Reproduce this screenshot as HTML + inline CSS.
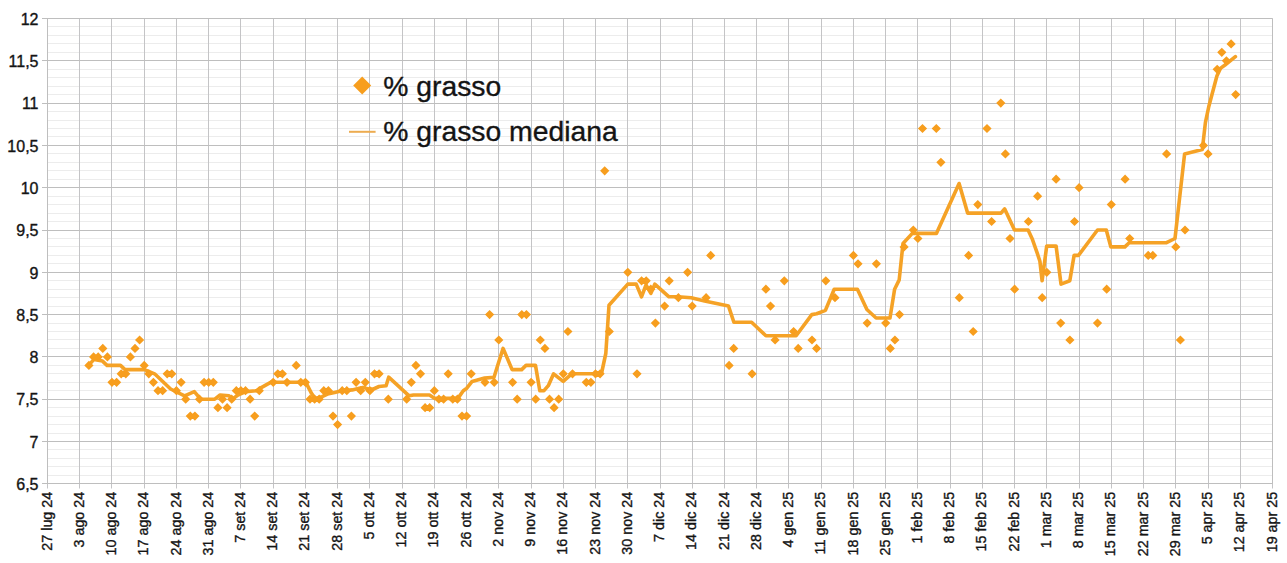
<!DOCTYPE html>
<html><head><meta charset="utf-8"><style>
html,body{margin:0;padding:0;background:#fff;}
body{width:1287px;height:563px;position:relative;overflow:hidden;font-family:"Liberation Sans",sans-serif;}
svg text{font-family:"Liberation Sans",sans-serif;fill:#141414;stroke:#141414;stroke-width:0.35px;}
</style></head><body>
<svg width="1287" height="563" viewBox="0 0 1287 563" style="position:absolute;left:0;top:0">
<path d="M47.5 475.50H1272.5M47.5 466.50H1272.5M47.5 458.50H1272.5M47.5 449.50H1272.5M47.5 433.50H1272.5M47.5 424.50H1272.5M47.5 416.50H1272.5M47.5 407.50H1272.5M47.5 390.50H1272.5M47.5 382.50H1272.5M47.5 373.50H1272.5M47.5 365.50H1272.5M47.5 348.50H1272.5M47.5 339.50H1272.5M47.5 331.50H1272.5M47.5 323.50H1272.5M47.5 306.50H1272.5M47.5 297.50H1272.5M47.5 289.50H1272.5M47.5 280.50H1272.5M47.5 263.50H1272.5M47.5 255.50H1272.5M47.5 246.50H1272.5M47.5 238.50H1272.5M47.5 221.50H1272.5M47.5 213.50H1272.5M47.5 204.50H1272.5M47.5 196.50H1272.5M47.5 179.50H1272.5M47.5 170.50H1272.5M47.5 162.50H1272.5M47.5 153.50H1272.5M47.5 136.50H1272.5M47.5 128.50H1272.5M47.5 120.50H1272.5M47.5 111.50H1272.5M47.5 94.50H1272.5M47.5 86.50H1272.5M47.5 77.50H1272.5M47.5 69.50H1272.5M47.5 52.50H1272.5M47.5 43.50H1272.5M47.5 35.50H1272.5M47.5 26.50H1272.5" stroke="#ECECEC" stroke-width="1" fill="none"/>
<path d="M47.50 18.5V488.5M79.50 18.5V488.5M111.50 18.5V488.5M144.50 18.5V488.5M176.50 18.5V488.5M208.50 18.5V488.5M240.50 18.5V488.5M273.50 18.5V488.5M305.50 18.5V488.5M337.50 18.5V488.5M369.50 18.5V488.5M402.50 18.5V488.5M434.50 18.5V488.5M466.50 18.5V488.5M498.50 18.5V488.5M531.50 18.5V488.5M563.50 18.5V488.5M595.50 18.5V488.5M627.50 18.5V488.5M660.50 18.5V488.5M692.50 18.5V488.5M724.50 18.5V488.5M756.50 18.5V488.5M788.50 18.5V488.5M821.50 18.5V488.5M853.50 18.5V488.5M885.50 18.5V488.5M917.50 18.5V488.5M950.50 18.5V488.5M982.50 18.5V488.5M1014.50 18.5V488.5M1046.50 18.5V488.5M1079.50 18.5V488.5M1111.50 18.5V488.5M1143.50 18.5V488.5M1175.50 18.5V488.5M1208.50 18.5V488.5M1240.50 18.5V488.5M1272.50 18.5V488.5" stroke="#C4C4C6" stroke-width="1" fill="none"/>
<path d="M42.0 483.50H1272.5M42.0 441.50H1272.5M42.0 399.50H1272.5M42.0 356.50H1272.5M42.0 314.50H1272.5M42.0 272.50H1272.5M42.0 230.50H1272.5M42.0 187.50H1272.5M42.0 145.50H1272.5M42.0 103.50H1272.5M42.0 60.50H1272.5M42.0 18.50H1272.5" stroke="#BEBEBE" stroke-width="1" fill="none"/>
<path d="M47.5 18.5V483.5M1272.5 18.5V483.5" stroke="#BEBEBE" stroke-width="1" fill="none"/>
<text x="38.5" y="490.00" text-anchor="end" font-size="16">6,5</text>
<text x="38.5" y="447.70" text-anchor="end" font-size="16">7</text>
<text x="38.5" y="405.40" text-anchor="end" font-size="16">7,5</text>
<text x="38.5" y="363.10" text-anchor="end" font-size="16">8</text>
<text x="38.5" y="320.80" text-anchor="end" font-size="16">8,5</text>
<text x="38.5" y="278.50" text-anchor="end" font-size="16">9</text>
<text x="38.5" y="236.20" text-anchor="end" font-size="16">9,5</text>
<text x="38.5" y="193.90" text-anchor="end" font-size="16">10</text>
<text x="38.5" y="151.60" text-anchor="end" font-size="16">10,5</text>
<text x="38.5" y="109.30" text-anchor="end" font-size="16">11</text>
<text x="38.5" y="67.00" text-anchor="end" font-size="16">11,5</text>
<text x="38.5" y="24.70" text-anchor="end" font-size="16">12</text>
<text transform="translate(51.60 491.7) rotate(-90)" text-anchor="end" font-size="14.35">27 lug 24</text>
<text transform="translate(83.84 491.7) rotate(-90)" text-anchor="end" font-size="14.35">3 ago 24</text>
<text transform="translate(116.07 491.7) rotate(-90)" text-anchor="end" font-size="14.35">10 ago 24</text>
<text transform="translate(148.31 491.7) rotate(-90)" text-anchor="end" font-size="14.35">17 ago 24</text>
<text transform="translate(180.55 491.7) rotate(-90)" text-anchor="end" font-size="14.35">24 ago 24</text>
<text transform="translate(212.78 491.7) rotate(-90)" text-anchor="end" font-size="14.35">31 ago 24</text>
<text transform="translate(245.02 491.7) rotate(-90)" text-anchor="end" font-size="14.35">7 set 24</text>
<text transform="translate(277.26 491.7) rotate(-90)" text-anchor="end" font-size="14.35">14 set 24</text>
<text transform="translate(309.49 491.7) rotate(-90)" text-anchor="end" font-size="14.35">21 set 24</text>
<text transform="translate(341.73 491.7) rotate(-90)" text-anchor="end" font-size="14.35">28 set 24</text>
<text transform="translate(373.97 491.7) rotate(-90)" text-anchor="end" font-size="14.35">5 ott 24</text>
<text transform="translate(406.21 491.7) rotate(-90)" text-anchor="end" font-size="14.35">12 ott 24</text>
<text transform="translate(438.44 491.7) rotate(-90)" text-anchor="end" font-size="14.35">19 ott 24</text>
<text transform="translate(470.68 491.7) rotate(-90)" text-anchor="end" font-size="14.35">26 ott 24</text>
<text transform="translate(502.92 491.7) rotate(-90)" text-anchor="end" font-size="14.35">2 nov 24</text>
<text transform="translate(535.15 491.7) rotate(-90)" text-anchor="end" font-size="14.35">9 nov 24</text>
<text transform="translate(567.39 491.7) rotate(-90)" text-anchor="end" font-size="14.35">16 nov 24</text>
<text transform="translate(599.63 491.7) rotate(-90)" text-anchor="end" font-size="14.35">23 nov 24</text>
<text transform="translate(631.86 491.7) rotate(-90)" text-anchor="end" font-size="14.35">30 nov 24</text>
<text transform="translate(664.10 491.7) rotate(-90)" text-anchor="end" font-size="14.35">7 dic 24</text>
<text transform="translate(696.34 491.7) rotate(-90)" text-anchor="end" font-size="14.35">14 dic 24</text>
<text transform="translate(728.57 491.7) rotate(-90)" text-anchor="end" font-size="14.35">21 dic 24</text>
<text transform="translate(760.81 491.7) rotate(-90)" text-anchor="end" font-size="14.35">28 dic 24</text>
<text transform="translate(793.05 491.7) rotate(-90)" text-anchor="end" font-size="14.35">4 gen 25</text>
<text transform="translate(825.28 491.7) rotate(-90)" text-anchor="end" font-size="14.35">11 gen 25</text>
<text transform="translate(857.52 491.7) rotate(-90)" text-anchor="end" font-size="14.35">18 gen 25</text>
<text transform="translate(889.76 491.7) rotate(-90)" text-anchor="end" font-size="14.35">25 gen 25</text>
<text transform="translate(921.99 491.7) rotate(-90)" text-anchor="end" font-size="14.35">1 feb 25</text>
<text transform="translate(954.23 491.7) rotate(-90)" text-anchor="end" font-size="14.35">8 feb 25</text>
<text transform="translate(986.47 491.7) rotate(-90)" text-anchor="end" font-size="14.35">15 feb 25</text>
<text transform="translate(1018.71 491.7) rotate(-90)" text-anchor="end" font-size="14.35">22 feb 25</text>
<text transform="translate(1050.94 491.7) rotate(-90)" text-anchor="end" font-size="14.35">1 mar 25</text>
<text transform="translate(1083.18 491.7) rotate(-90)" text-anchor="end" font-size="14.35">8 mar 25</text>
<text transform="translate(1115.42 491.7) rotate(-90)" text-anchor="end" font-size="14.35">15 mar 25</text>
<text transform="translate(1147.65 491.7) rotate(-90)" text-anchor="end" font-size="14.35">22 mar 25</text>
<text transform="translate(1179.89 491.7) rotate(-90)" text-anchor="end" font-size="14.35">29 mar 25</text>
<text transform="translate(1212.13 491.7) rotate(-90)" text-anchor="end" font-size="14.35">5 apr 25</text>
<text transform="translate(1244.36 491.7) rotate(-90)" text-anchor="end" font-size="14.35">12 apr 25</text>
<text transform="translate(1276.60 491.7) rotate(-90)" text-anchor="end" font-size="14.35">19 apr 25</text>
<polyline points="88.5,365.4 94.0,359.4 102.5,361.1 107.0,365.4 120.5,365.4 125.0,369.6 144.5,369.6 154.6,373.8 170.6,389.0 184.6,395.8 194.3,391.6 200.6,399.2 214.8,399.2 220.1,395.0 229.0,395.8 232.5,399.2 237.9,395.0 245.8,391.6 256.4,390.7 261.7,387.4 272.4,381.4 276.0,382.3 299.0,382.3 305.3,381.4 311.5,393.3 315.0,398.4 322.1,396.7 327.5,394.1 334.6,392.4 341.7,390.7 352.3,389.9 359.4,388.2 363.0,387.4 368.3,389.0 373.6,389.0 379.0,386.5 386.1,385.7 388.7,377.2 409.1,395.8 413.5,395.0 429.5,395.0 434.8,398.4 457.9,398.4 463.3,390.7 466.8,388.2 472.1,381.4 484.6,378.1 494.0,377.2 498.2,363.7 503.1,348.4 512.1,369.6 521.7,369.6 526.0,365.4 535.5,365.4 539.8,390.7 544.0,390.7 548.3,385.7 553.6,373.8 559.0,378.1 563.2,381.4 571.7,373.8 596.2,373.8 601.6,373.0 605.8,353.5 609.0,305.3 627.8,284.1 636.2,284.1 641.5,296.8 646.0,285.0 650.9,293.4 654.8,284.1 669.0,296.8 677.9,296.8 691.2,297.7 704.6,301.1 728.5,306.1 733.9,322.2 751.6,322.2 765.9,335.8 796.1,335.8 811.8,314.6 816.6,313.8 825.4,310.4 834.2,289.2 857.4,289.2 866.9,309.5 876.1,318.0 890.0,318.0 894.6,289.2 899.2,279.9 903.0,243.5 912.3,233.4 916.7,233.4 936.4,233.4 959.1,183.5 967.6,213.1 1001.0,213.1 1004.6,208.8 1014.5,230.0 1028.1,230.0 1032.4,239.3 1037.4,253.7 1039.9,261.3 1042.1,280.8 1046.7,246.1 1056.1,246.1 1061.0,284.1 1069.8,280.8 1074.1,255.4 1078.5,255.4 1097.5,230.0 1106.3,230.0 1110.8,246.9 1124.9,246.9 1129.2,242.7 1166.5,242.7 1175.0,238.5 1184.6,153.9 1202.3,149.6 1205.4,122.6 1208.8,106.5 1216.9,76.0 1220.4,68.4 1225.0,65.0 1235.4,56.6" fill="none" stroke="#F5A226" stroke-width="3.6" stroke-linejoin="round" stroke-linecap="round"/>
<path d="M88.9 360.8l4.6 4.6l-4.6 4.6l-4.6 -4.6zM93.6 352.3l4.6 4.6l-4.6 4.6l-4.6 -4.6zM98.2 352.3l4.6 4.6l-4.6 4.6l-4.6 -4.6zM102.8 343.8l4.6 4.6l-4.6 4.6l-4.6 -4.6zM107.4 352.3l4.6 4.6l-4.6 4.6l-4.6 -4.6zM112.0 377.7l4.6 4.6l-4.6 4.6l-4.6 -4.6zM116.6 377.7l4.6 4.6l-4.6 4.6l-4.6 -4.6zM121.2 369.2l4.6 4.6l-4.6 4.6l-4.6 -4.6zM125.8 369.2l4.6 4.6l-4.6 4.6l-4.6 -4.6zM130.4 352.3l4.6 4.6l-4.6 4.6l-4.6 -4.6zM135.0 343.8l4.6 4.6l-4.6 4.6l-4.6 -4.6zM139.6 335.4l4.6 4.6l-4.6 4.6l-4.6 -4.6zM144.2 360.8l4.6 4.6l-4.6 4.6l-4.6 -4.6zM148.8 369.2l4.6 4.6l-4.6 4.6l-4.6 -4.6zM153.4 377.7l4.6 4.6l-4.6 4.6l-4.6 -4.6zM158.0 386.1l4.6 4.6l-4.6 4.6l-4.6 -4.6zM162.6 386.1l4.6 4.6l-4.6 4.6l-4.6 -4.6zM167.2 369.2l4.6 4.6l-4.6 4.6l-4.6 -4.6zM171.8 369.2l4.6 4.6l-4.6 4.6l-4.6 -4.6zM176.4 386.1l4.6 4.6l-4.6 4.6l-4.6 -4.6zM181.1 377.7l4.6 4.6l-4.6 4.6l-4.6 -4.6zM185.7 394.6l4.6 4.6l-4.6 4.6l-4.6 -4.6zM190.3 411.5l4.6 4.6l-4.6 4.6l-4.6 -4.6zM194.9 411.5l4.6 4.6l-4.6 4.6l-4.6 -4.6zM199.5 394.6l4.6 4.6l-4.6 4.6l-4.6 -4.6zM204.1 377.7l4.6 4.6l-4.6 4.6l-4.6 -4.6zM208.7 377.7l4.6 4.6l-4.6 4.6l-4.6 -4.6zM213.3 377.7l4.6 4.6l-4.6 4.6l-4.6 -4.6zM217.9 403.1l4.6 4.6l-4.6 4.6l-4.6 -4.6zM222.5 394.6l4.6 4.6l-4.6 4.6l-4.6 -4.6zM227.1 403.1l4.6 4.6l-4.6 4.6l-4.6 -4.6zM231.7 394.6l4.6 4.6l-4.6 4.6l-4.6 -4.6zM236.3 386.1l4.6 4.6l-4.6 4.6l-4.6 -4.6zM240.9 386.1l4.6 4.6l-4.6 4.6l-4.6 -4.6zM245.5 386.1l4.6 4.6l-4.6 4.6l-4.6 -4.6zM250.1 394.6l4.6 4.6l-4.6 4.6l-4.6 -4.6zM254.7 411.5l4.6 4.6l-4.6 4.6l-4.6 -4.6zM259.3 386.1l4.6 4.6l-4.6 4.6l-4.6 -4.6zM273.2 377.7l4.6 4.6l-4.6 4.6l-4.6 -4.6zM277.8 369.2l4.6 4.6l-4.6 4.6l-4.6 -4.6zM282.4 369.2l4.6 4.6l-4.6 4.6l-4.6 -4.6zM287.0 377.7l4.6 4.6l-4.6 4.6l-4.6 -4.6zM296.2 360.8l4.6 4.6l-4.6 4.6l-4.6 -4.6zM300.8 377.7l4.6 4.6l-4.6 4.6l-4.6 -4.6zM305.4 377.7l4.6 4.6l-4.6 4.6l-4.6 -4.6zM310.0 394.6l4.6 4.6l-4.6 4.6l-4.6 -4.6zM314.6 394.6l4.6 4.6l-4.6 4.6l-4.6 -4.6zM319.2 394.6l4.6 4.6l-4.6 4.6l-4.6 -4.6zM323.8 386.1l4.6 4.6l-4.6 4.6l-4.6 -4.6zM328.4 386.1l4.6 4.6l-4.6 4.6l-4.6 -4.6zM333.0 411.5l4.6 4.6l-4.6 4.6l-4.6 -4.6zM337.6 420.0l4.6 4.6l-4.6 4.6l-4.6 -4.6zM342.2 386.1l4.6 4.6l-4.6 4.6l-4.6 -4.6zM346.8 386.1l4.6 4.6l-4.6 4.6l-4.6 -4.6zM351.4 411.5l4.6 4.6l-4.6 4.6l-4.6 -4.6zM356.1 377.7l4.6 4.6l-4.6 4.6l-4.6 -4.6zM360.7 386.1l4.6 4.6l-4.6 4.6l-4.6 -4.6zM365.3 377.7l4.6 4.6l-4.6 4.6l-4.6 -4.6zM369.9 386.1l4.6 4.6l-4.6 4.6l-4.6 -4.6zM374.5 369.2l4.6 4.6l-4.6 4.6l-4.6 -4.6zM379.1 369.2l4.6 4.6l-4.6 4.6l-4.6 -4.6zM388.3 394.6l4.6 4.6l-4.6 4.6l-4.6 -4.6zM406.7 394.6l4.6 4.6l-4.6 4.6l-4.6 -4.6zM411.3 377.7l4.6 4.6l-4.6 4.6l-4.6 -4.6zM415.9 360.8l4.6 4.6l-4.6 4.6l-4.6 -4.6zM420.5 369.2l4.6 4.6l-4.6 4.6l-4.6 -4.6zM425.1 403.1l4.6 4.6l-4.6 4.6l-4.6 -4.6zM429.7 403.1l4.6 4.6l-4.6 4.6l-4.6 -4.6zM434.3 386.1l4.6 4.6l-4.6 4.6l-4.6 -4.6zM438.9 394.6l4.6 4.6l-4.6 4.6l-4.6 -4.6zM443.6 394.6l4.6 4.6l-4.6 4.6l-4.6 -4.6zM448.2 369.2l4.6 4.6l-4.6 4.6l-4.6 -4.6zM452.8 394.6l4.6 4.6l-4.6 4.6l-4.6 -4.6zM457.4 394.6l4.6 4.6l-4.6 4.6l-4.6 -4.6zM462.0 411.5l4.6 4.6l-4.6 4.6l-4.6 -4.6zM466.6 411.5l4.6 4.6l-4.6 4.6l-4.6 -4.6zM471.2 369.2l4.6 4.6l-4.6 4.6l-4.6 -4.6zM485.0 377.7l4.6 4.6l-4.6 4.6l-4.6 -4.6zM489.6 310.0l4.6 4.6l-4.6 4.6l-4.6 -4.6zM494.2 377.7l4.6 4.6l-4.6 4.6l-4.6 -4.6zM498.8 335.4l4.6 4.6l-4.6 4.6l-4.6 -4.6zM512.6 377.7l4.6 4.6l-4.6 4.6l-4.6 -4.6zM517.2 394.6l4.6 4.6l-4.6 4.6l-4.6 -4.6zM521.8 310.0l4.6 4.6l-4.6 4.6l-4.6 -4.6zM526.4 310.0l4.6 4.6l-4.6 4.6l-4.6 -4.6zM531.1 377.7l4.6 4.6l-4.6 4.6l-4.6 -4.6zM535.7 394.6l4.6 4.6l-4.6 4.6l-4.6 -4.6zM540.3 335.4l4.6 4.6l-4.6 4.6l-4.6 -4.6zM544.9 343.8l4.6 4.6l-4.6 4.6l-4.6 -4.6zM549.5 394.6l4.6 4.6l-4.6 4.6l-4.6 -4.6zM554.1 403.1l4.6 4.6l-4.6 4.6l-4.6 -4.6zM558.7 394.6l4.6 4.6l-4.6 4.6l-4.6 -4.6zM563.3 369.2l4.6 4.6l-4.6 4.6l-4.6 -4.6zM567.9 326.9l4.6 4.6l-4.6 4.6l-4.6 -4.6zM572.5 369.2l4.6 4.6l-4.6 4.6l-4.6 -4.6zM586.3 377.7l4.6 4.6l-4.6 4.6l-4.6 -4.6zM590.9 377.7l4.6 4.6l-4.6 4.6l-4.6 -4.6zM595.5 369.2l4.6 4.6l-4.6 4.6l-4.6 -4.6zM600.1 369.2l4.6 4.6l-4.6 4.6l-4.6 -4.6zM604.7 166.2l4.6 4.6l-4.6 4.6l-4.6 -4.6zM609.3 326.9l4.6 4.6l-4.6 4.6l-4.6 -4.6zM627.8 267.7l4.6 4.6l-4.6 4.6l-4.6 -4.6zM637.0 369.2l4.6 4.6l-4.6 4.6l-4.6 -4.6zM641.6 276.2l4.6 4.6l-4.6 4.6l-4.6 -4.6zM646.2 276.2l4.6 4.6l-4.6 4.6l-4.6 -4.6zM650.8 284.6l4.6 4.6l-4.6 4.6l-4.6 -4.6zM655.4 318.5l4.6 4.6l-4.6 4.6l-4.6 -4.6zM664.6 301.5l4.6 4.6l-4.6 4.6l-4.6 -4.6zM669.2 276.2l4.6 4.6l-4.6 4.6l-4.6 -4.6zM678.4 293.1l4.6 4.6l-4.6 4.6l-4.6 -4.6zM687.6 267.7l4.6 4.6l-4.6 4.6l-4.6 -4.6zM692.2 301.5l4.6 4.6l-4.6 4.6l-4.6 -4.6zM706.1 293.1l4.6 4.6l-4.6 4.6l-4.6 -4.6zM710.7 250.8l4.6 4.6l-4.6 4.6l-4.6 -4.6zM729.1 360.8l4.6 4.6l-4.6 4.6l-4.6 -4.6zM733.7 343.8l4.6 4.6l-4.6 4.6l-4.6 -4.6zM752.1 369.2l4.6 4.6l-4.6 4.6l-4.6 -4.6zM765.9 284.6l4.6 4.6l-4.6 4.6l-4.6 -4.6zM770.5 301.5l4.6 4.6l-4.6 4.6l-4.6 -4.6zM775.1 335.4l4.6 4.6l-4.6 4.6l-4.6 -4.6zM784.3 276.2l4.6 4.6l-4.6 4.6l-4.6 -4.6zM793.6 326.9l4.6 4.6l-4.6 4.6l-4.6 -4.6zM798.2 343.8l4.6 4.6l-4.6 4.6l-4.6 -4.6zM812.0 335.4l4.6 4.6l-4.6 4.6l-4.6 -4.6zM816.6 343.8l4.6 4.6l-4.6 4.6l-4.6 -4.6zM825.8 276.2l4.6 4.6l-4.6 4.6l-4.6 -4.6zM835.0 293.1l4.6 4.6l-4.6 4.6l-4.6 -4.6zM853.4 250.8l4.6 4.6l-4.6 4.6l-4.6 -4.6zM858.0 259.2l4.6 4.6l-4.6 4.6l-4.6 -4.6zM867.2 318.5l4.6 4.6l-4.6 4.6l-4.6 -4.6zM876.4 259.2l4.6 4.6l-4.6 4.6l-4.6 -4.6zM885.7 318.5l4.6 4.6l-4.6 4.6l-4.6 -4.6zM890.3 343.8l4.6 4.6l-4.6 4.6l-4.6 -4.6zM894.9 335.4l4.6 4.6l-4.6 4.6l-4.6 -4.6zM899.5 310.0l4.6 4.6l-4.6 4.6l-4.6 -4.6zM904.1 242.3l4.6 4.6l-4.6 4.6l-4.6 -4.6zM913.3 225.4l4.6 4.6l-4.6 4.6l-4.6 -4.6zM917.9 233.9l4.6 4.6l-4.6 4.6l-4.6 -4.6zM922.5 123.9l4.6 4.6l-4.6 4.6l-4.6 -4.6zM936.3 123.9l4.6 4.6l-4.6 4.6l-4.6 -4.6zM940.9 157.7l4.6 4.6l-4.6 4.6l-4.6 -4.6zM959.3 293.1l4.6 4.6l-4.6 4.6l-4.6 -4.6zM968.6 250.8l4.6 4.6l-4.6 4.6l-4.6 -4.6zM973.2 326.9l4.6 4.6l-4.6 4.6l-4.6 -4.6zM977.8 200.0l4.6 4.6l-4.6 4.6l-4.6 -4.6zM987.0 123.9l4.6 4.6l-4.6 4.6l-4.6 -4.6zM991.6 216.9l4.6 4.6l-4.6 4.6l-4.6 -4.6zM1000.8 98.5l4.6 4.6l-4.6 4.6l-4.6 -4.6zM1005.4 149.3l4.6 4.6l-4.6 4.6l-4.6 -4.6zM1010.0 233.9l4.6 4.6l-4.6 4.6l-4.6 -4.6zM1014.6 284.6l4.6 4.6l-4.6 4.6l-4.6 -4.6zM1028.4 216.9l4.6 4.6l-4.6 4.6l-4.6 -4.6zM1037.6 191.6l4.6 4.6l-4.6 4.6l-4.6 -4.6zM1042.2 293.1l4.6 4.6l-4.6 4.6l-4.6 -4.6zM1046.8 267.7l4.6 4.6l-4.6 4.6l-4.6 -4.6zM1056.1 174.6l4.6 4.6l-4.6 4.6l-4.6 -4.6zM1060.7 318.5l4.6 4.6l-4.6 4.6l-4.6 -4.6zM1069.9 335.4l4.6 4.6l-4.6 4.6l-4.6 -4.6zM1074.5 216.9l4.6 4.6l-4.6 4.6l-4.6 -4.6zM1079.1 183.1l4.6 4.6l-4.6 4.6l-4.6 -4.6zM1097.5 318.5l4.6 4.6l-4.6 4.6l-4.6 -4.6zM1106.7 284.6l4.6 4.6l-4.6 4.6l-4.6 -4.6zM1111.3 200.0l4.6 4.6l-4.6 4.6l-4.6 -4.6zM1125.1 174.6l4.6 4.6l-4.6 4.6l-4.6 -4.6zM1129.7 233.9l4.6 4.6l-4.6 4.6l-4.6 -4.6zM1148.2 250.8l4.6 4.6l-4.6 4.6l-4.6 -4.6zM1152.8 250.8l4.6 4.6l-4.6 4.6l-4.6 -4.6zM1166.6 149.3l4.6 4.6l-4.6 4.6l-4.6 -4.6zM1175.8 242.3l4.6 4.6l-4.6 4.6l-4.6 -4.6zM1180.4 335.4l4.6 4.6l-4.6 4.6l-4.6 -4.6zM1185.0 225.4l4.6 4.6l-4.6 4.6l-4.6 -4.6zM1203.4 140.8l4.6 4.6l-4.6 4.6l-4.6 -4.6zM1208.0 149.3l4.6 4.6l-4.6 4.6l-4.6 -4.6zM1217.2 64.7l4.6 4.6l-4.6 4.6l-4.6 -4.6zM1221.8 47.7l4.6 4.6l-4.6 4.6l-4.6 -4.6zM1226.4 56.2l4.6 4.6l-4.6 4.6l-4.6 -4.6zM1231.1 39.3l4.6 4.6l-4.6 4.6l-4.6 -4.6zM1235.7 90.0l4.6 4.6l-4.6 4.6l-4.6 -4.6z" fill="#F79E1E"/>
<path d="M362.2 76.6l9 9l-9 9l-9 -9z" fill="#F79E1E"/>
<path d="M349 131.8H375.6" stroke="#EDAC50" stroke-width="2"/>
<text x="383.3" y="96" font-size="28.3">% grasso</text>
<text x="383.3" y="141.3" font-size="28.3">% grasso mediana</text>
</svg>
</body></html>
